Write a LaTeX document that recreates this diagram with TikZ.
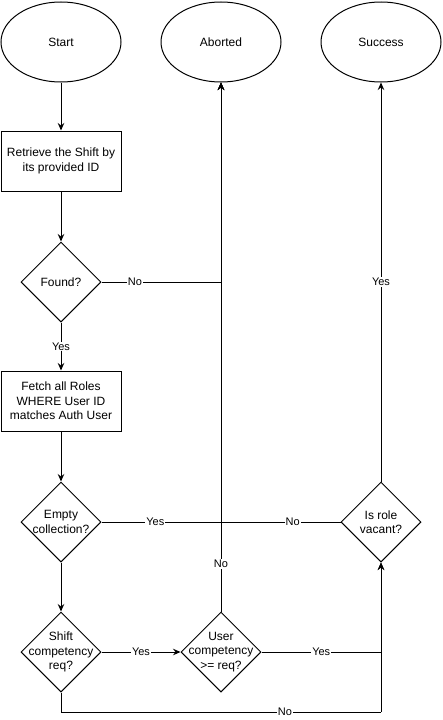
\documentclass[tikz,border=0pt]{standalone}
\usepackage{fontspec}
\setmainfont{Liberation Sans}
\usepackage{xcolor}
\definecolor{ink}{RGB}{0, 0, 0}
\usepackage{tikz}
\usetikzlibrary{
  shapes.geometric,
  arrows.meta, positioning, calc
}

\tikzset{
  terminal/.style={draw=ink, ellipse, line width=1pt, minimum width=120pt, minimum height=80pt,
    inner sep=0pt, font=\fontsize{12}{14.4}\selectfont},
  stepbox/.style={draw=ink, rectangle, line width=1pt, minimum width=120pt, minimum height=60pt,
    inner sep=0pt, align=center, font=\fontsize{12}{14.4}\selectfont},
  decision/.style={draw=ink, diamond, line width=1pt, minimum width=80pt, minimum height=80pt,
    inner sep=0pt},
  qtext/.style={align=center, font=\fontsize{12}{14.4}\selectfont},
  flow/.style={draw=ink, line width=1pt, -{Stealth[length=7.5pt, width=6.5pt, inset=2.5pt]}},
  link/.style={draw=ink, line width=1pt},
  tag/.style={fill=white, inner sep=1pt, font=\fontsize{11}{13}\selectfont}
}

\begin{document}
\begin{tikzpicture}[x=1pt, y=-1pt]
    \useasboundingbox (0,0) rectangle (443,720);

    % end points
    \node[terminal] (start)   at (61,42)  {Start};
    \node[terminal] (aborted) at (221,42) {Aborted};
    \node[terminal] (success) at (381,42) {Success};

    % main column
    \node[stepbox] (retrieve) at (61,161) {Retrieve the Shift by\\its provided ID};
    \node[decision, label={[qtext]center:Found?}] (found) at (61,282) {};
    \node[stepbox] (fetch) at (61,401) {Fetch all Roles\\WHERE User ID\\matches Auth User};
    \node[decision, label={[qtext]center:Empty\\collection?}] (empty) at (61,522) {};
    \node[decision, label={[qtext]center:Shift\\competency\\req?}] (shiftreq) at (61,652) {};

    % right side checks
    \node[decision, label={[qtext]center:User\\competency\\>= req?}] (usercomp) at (221,652) {};
    \node[decision, label={[qtext]center:Is role\\vacant?}] (vacant) at (381,522) {};
    \coordinate (nocorner) at (381,712);

    % connectors
    \draw[flow] (start) -- (retrieve);
    \draw[flow] (retrieve) -- (found);
    \draw[flow] (found) -- node[tag] {Yes} (fetch);
    \draw[flow] (fetch) -- (empty);
    \draw[flow] (empty) -- (shiftreq);
    \draw[flow] (found.east) -| node[tag, pos=0.14] {No} (aborted.south);
    \draw[flow] (empty.east) -| node[tag, pos=0.225] {Yes} (aborted.south);
    \draw[flow] (vacant.west) -| node[tag, pos=0.2] {No} (aborted.south);
    \draw[flow] (vacant.north) -- node[tag] {Yes} (success.south);
    \draw[flow] (shiftreq.east) -- node[tag] {Yes} (usercomp.west);
    \draw[flow] (usercomp.north) -- node[tag, pos=0.09] {No} (aborted.south);
    \draw[flow] (usercomp.east) -| node[tag, pos=0.25] {Yes} (vacant.south);
    \draw[link] (shiftreq.south) |- node[tag, pos=0.85] {No} (nocorner);
    \draw[flow] (nocorner) -- (vacant.south);
  \end{tikzpicture}
\end{document}
